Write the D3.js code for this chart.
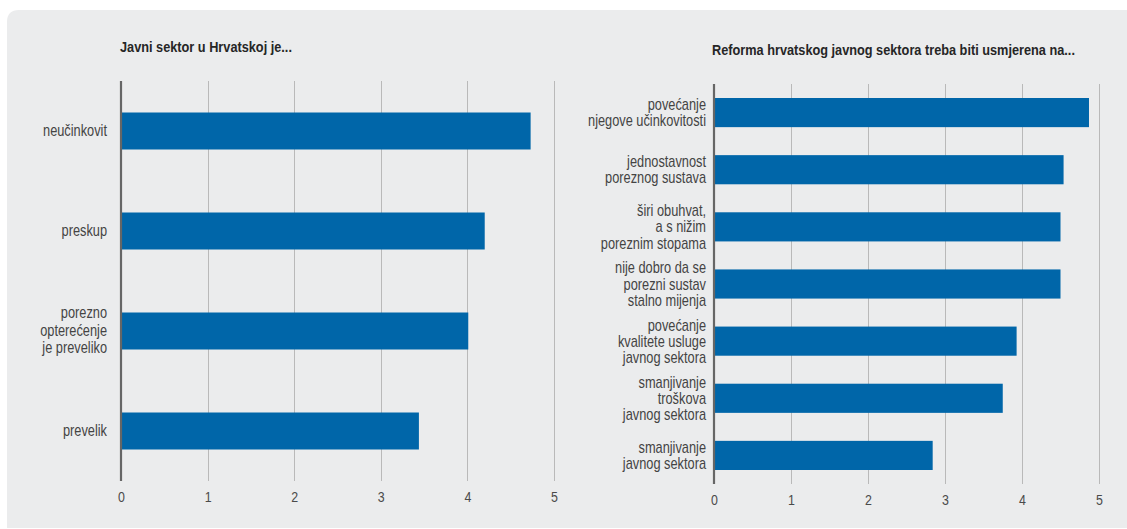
<!DOCTYPE html>
<html><head><meta charset="utf-8">
<script src="https://cdn.jsdelivr.net/npm/d3@7"></script>
<style>
html,body{margin:0;padding:0;background:#fff;}
svg{display:block;}
</style></head>
<body>
<svg id="chart" width="1127" height="529"></svg>
<script>
const leftTitle = "Javni sektor u Hrvatskoj je...";
const leftCategories = ["neučinkovit", "preskup", "porezno\nopterećenje\nje preveliko", "prevelik"];
const leftValues = [4.73, 4.20, 4.01, 3.44];

const rightTitle = "Reforma hrvatskog javnog sektora treba biti usmjerena na...";
const rightCategories = [
  "povećanje\nnjegove učinkovitosti",
  "jednostavnost\nporeznog sustava",
  "širi obuhvat,\na s nižim\nporeznim stopama",
  "nije dobro da se\nporezni sustav\nstalno mijenja",
  "povećanje\nkvalitete usluge\njavnog sektora",
  "smanjivanje\ntroškova\njavnog sektora",
  "smanjivanje\njavnog sektora"
];
const rightValues = [4.87, 4.54, 4.50, 4.50, 3.93, 3.75, 2.84];

const tickValues = [0, 1, 2, 3, 4, 5];

const FONT = "'Liberation Sans',Arial,sans-serif";
const BAR = "#0066a9";
const svg = d3.select("#chart");

// horizontal condensation to mimic a condensed typeface
const TITLE_SX = 0.91;

// panel background
svg.append("path")
  .attr("d", "M7,528 L7,22 Q7,10 19,10 L1127,10 L1127,528 Z")
  .attr("fill", "#ebeced");

function drawChart(cfg) {
  const g = svg.append("g");
  const x = d3.scaleLinear().domain([0, 5]).range([cfg.x0, cfg.x1]);
  const y = d3.scaleBand().domain(cfg.cats).range([cfg.y0, cfg.y1])
    .paddingInner(cfg.pad).paddingOuter(cfg.pad / 2);

  // title
  g.append("text")
    .attr("transform", `translate(${cfg.titleX},${cfg.titleY}) scale(${TITLE_SX},1)`)
    .attr("font-family", FONT).attr("font-size", 14).attr("font-weight", "bold")
    .attr("fill", "#262626").text(cfg.title);

  // grid
  g.selectAll("line.grid").data(tickValues.filter(d => d > 0)).join("line")
    .attr("x1", d => Math.round(x(d)) + 0.5).attr("x2", d => Math.round(x(d)) + 0.5)
    .attr("y1", cfg.y0).attr("y2", cfg.y1)
    .attr("stroke", "#b9b9b9").attr("stroke-width", 1);

  // bars
  g.selectAll("rect.bar").data(cfg.vals).join("rect")
    .attr("x", x(0)).attr("y", (d, i) => y(cfg.cats[i]))
    .attr("width", d => x(d) - x(0)).attr("height", y.bandwidth())
    .attr("fill", BAR);

  // axis line
  g.append("line").attr("x1", x(0)).attr("x2", x(0))
    .attr("y1", cfg.y0).attr("y2", cfg.y1)
    .attr("stroke", "#666").attr("stroke-width", 2.2);

  // bottom axis
  const ax = d3.axisBottom(x).tickValues(tickValues).tickSize(0).tickPadding(0).tickFormat(d3.format("d"));
  const axg = g.append("g").attr("transform", `translate(0,${cfg.tickY})`).call(ax);
  axg.select(".domain").remove();
  axg.selectAll("text").attr("font-family", FONT).attr("font-size", 15.5)
    .attr("fill", "#4a4a4a").attr("dy", "0").attr("transform", `scale(0.8,1)`);

  // category labels
  cfg.cats.forEach((c, i) => {
    const lines = c.split("\n");
    const cy = y(c) + y.bandwidth() / 2 + cfg.labelShift;
    const t = g.append("text").attr("text-anchor", "end")
      .attr("transform", `translate(${cfg.labelX},0) scale(${cfg.labelSX},1)`)
      .attr("font-family", FONT).attr("font-size", cfg.labelSize).attr("fill", "#444");
    lines.forEach((ln, k) => {
      t.append("tspan").attr("x", 0)
        .attr("y", cy + (k - (lines.length - 1) / 2) * cfg.lh + cfg.labelSize * 0.35)
        .text(ln);
    });
  });
}

drawChart({
  title: leftTitle, titleX: 120, titleY: 52,
  cats: leftCategories, vals: leftValues,
  x0: 121, x1: 554, y0: 81, y1: 481, pad: 0.63,
  tickY: 502, labelX: 107, lh: 17.8, labelShift: -1,
  labelSize: 16, labelSX: 0.80
});

drawChart({
  title: rightTitle, titleX: 712, titleY: 55,
  cats: rightCategories, vals: rightValues,
  x0: 714, x1: 1099, y0: 84, y1: 484, pad: 0.49,
  tickY: 505, labelX: 706, lh: 16.2, labelShift: 0,
  labelSize: 16, labelSX: 0.80
});
</script>
</body></html>
